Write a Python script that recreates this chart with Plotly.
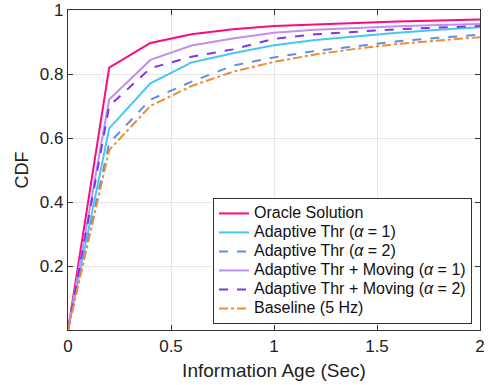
import plotly.graph_objects as go

age = [0, 0.2, 0.4, 0.6, 0.8, 1.0, 1.2, 1.4, 1.6, 1.8, 2.0]
oracle = [0, 0.82, 0.897, 0.924, 0.94, 0.95, 0.955, 0.96, 0.964, 0.967, 0.97]
thr_a1 = [0, 0.63, 0.771, 0.836, 0.865, 0.89, 0.906, 0.918, 0.929, 0.938, 0.946]
thr_a2 = [0, 0.584, 0.72, 0.776, 0.826, 0.852, 0.872, 0.888, 0.902, 0.913, 0.923]
mov_a1 = [0, 0.72, 0.844, 0.889, 0.911, 0.929, 0.938, 0.944, 0.949, 0.953, 0.956]
mov_a2 = [0, 0.70, 0.818, 0.854, 0.877, 0.91, 0.924, 0.933, 0.94, 0.945, 0.95]
base = [0, 0.5625, 0.70, 0.7625, 0.807, 0.838, 0.861, 0.879, 0.894, 0.905, 0.915]

names = ["Oracle Solution", "Adaptive Thr (<i>α</i> = 1)", "Adaptive Thr (<i>α</i> = 2)",
         "Adaptive Thr + Moving (<i>α</i> = 1)", "Adaptive Thr + Moving (<i>α</i> = 2)", "Baseline (5 Hz)"]
series = [oracle, thr_a1, thr_a2, mov_a1, mov_a2, base]
colors = ["#ff0a7a", "#45c8f2", "#5d8fe8", "#c08ff0", "#8433e8", "#f08a35"]
dashes = ["solid", "solid", "dash", "solid", "dash", "dashdot"]

fig = go.Figure()
for n, s, c, d in zip(names, series, colors, dashes):
    fig.add_trace(go.Scatter(x=age, y=s, mode="lines",
                             name='<span style="font-size:16px">' + n + '</span>',
                             line=dict(color=c, width=2, dash=d)))

axis_common = dict(showgrid=True, gridcolor="#e6e6e6", gridwidth=1,
                   showline=True, linecolor="#333333", linewidth=1.2, mirror="ticks",
                   ticks="inside", ticklen=5, tickcolor="#333333",
                   tickfont=dict(size=17, color="#222222"), zeroline=False,
                   automargin=False)

fig.update_layout(
    width=488, height=385,
    margin=dict(l=68, r=8, t=10, b=55),
    paper_bgcolor="white", plot_bgcolor="white",
    font=dict(family="Liberation Sans, Arial, sans-serif", color="#222222"),
    xaxis=dict(range=[0, 2], tickvals=[0, 0.5, 1, 1.5, 2], ticktext=["0", "0.5", "1", "1.5", "2"],
               title=dict(text="Information Age (Sec)", font=dict(size=19), standoff=9), **axis_common),
    yaxis=dict(range=[0, 1], tickvals=[0.2, 0.4, 0.6, 0.8, 1], ticktext=["0.2", "0.4", "0.6", "0.8", "1"],
               title=dict(text="CDF", font=dict(size=18), standoff=6), **axis_common),
    legend=dict(x=0.352, y=0.019, xanchor="left", yanchor="bottom",
                bgcolor="white", bordercolor="#333333", borderwidth=1,
                font=dict(size=12, color="#111111"), tracegroupgap=0,
                itemwidth=30),
    showlegend=True,
)

fig.write_html("out.html")
